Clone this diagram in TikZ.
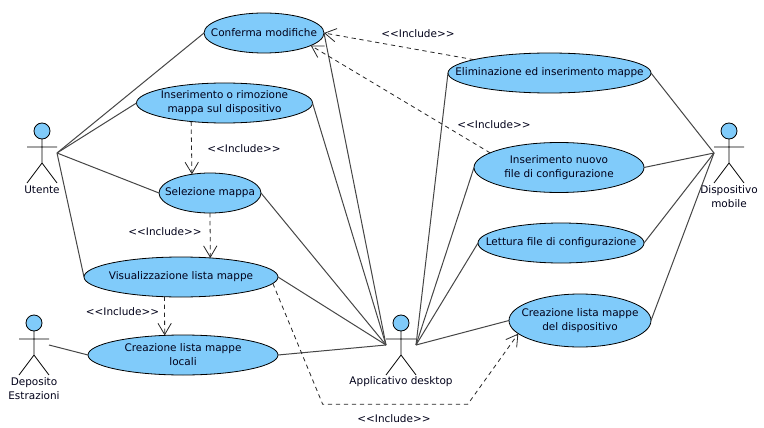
\documentclass[tikz,border=0pt]{standalone}
\usepackage{fontspec}
\setmainfont{DejaVu Sans}
\usetikzlibrary{shapes.geometric,arrows.meta}
\definecolor{ucfill}{RGB}{128,203,250}
\definecolor{linkgrey}{RGB}{70,70,70}
\tikzset{
  lbl/.style={inner sep=0pt,align=center,font=\fontsize{7.85}{10.5}\selectfont,text=black!90!blue},
  uc/.style={ellipse,draw=black,fill=ucfill,line width=0.6pt,inner sep=0pt,outer sep=0pt},
  head/.style={circle,draw=black,fill=ucfill,line width=0.6pt,minimum size=12pt,inner sep=0pt,outer sep=0pt},
  assoc/.style={draw=linkgrey,line width=0.75pt},
  incl/.style={draw=black!85,line width=0.6pt,dash pattern=on 3.2pt off 2.8pt,-{Straight Barb[length=8.5pt,width=10pt,line width=0.6pt]}},
  pics/actor/.style={code={
    \node[head] (-head) at (0,0) {};
    \draw[black,line width=0.6pt] (-head.south) -- (0,32) (-15,16) -- (15,16) (-15,52) -- (0,32) -- (15,52);
    \coordinate (-l) at (-15,22);
    \coordinate (-r) at (15,22);
  }}
}
\begin{document}
\begin{tikzpicture}[x=0.75pt,y=-0.75pt]
\path[use as bounding box,fill=white] (0,0) rectangle (764,428);
% use cases
\node[uc,minimum width=90pt,minimum height=30pt,label={[lbl]center:Conferma modifiche}] (conf) at (264,33) {};
\node[uc,minimum width=132pt,minimum height=30pt,label={[lbl]center:Inserimento o rimozione\\mappa sul dispositivo}] (insrim) at (224.5,103) {};
\node[uc,minimum width=76.5pt,minimum height=30pt,label={[lbl]center:Selezione mappa}] (sel) at (210,193) {};
\node[uc,minimum width=145.5pt,minimum height=30pt,label={[lbl]center:Visualizzazione lista mappe}] (vis) at (181,277) {};
\node[uc,minimum width=142.5pt,minimum height=30pt,label={[lbl]center:Creazione lista mappe\\locali}] (loc) at (183,355) {};
\node[uc,minimum width=152.25pt,minimum height=30pt,label={[lbl]center:Eliminazione ed inserimento mappe}] (elim) at (549.5,73) {};
\node[uc,minimum width=127.5pt,minimum height=37.5pt,label={[lbl]center:Inserimento nuovo\\file di configurazione}] (nuovo) at (559,167.5) {};
\node[uc,minimum width=124.5pt,minimum height=30pt,label={[lbl]center:Lettura file di configurazione}] (lett) at (561,243) {};
\node[uc,minimum width=106.5pt,minimum height=39.75pt,label={[lbl]center:Creazione lista mappe\\del dispositivo}] (cdisp) at (580,320.5) {};
% actors
\pic (ut) at (42,131) {actor};
\pic (disp) at (729,131) {actor};
\pic (app) at (401,323) {actor};
\pic (dep) at (34,323) {actor};
\node[lbl] (utl) at (42,190) {Utente};
\node[lbl] (displ) at (729,197) {Dispositivo\\mobile};
\node[lbl] (appl) at (401,382) {Applicativo desktop};
\node[lbl] (depl) at (34,389) {Deposito\\Estrazioni};
% associations
\draw[assoc] (ut-r) -- (conf.west);
\draw[assoc] (ut-r) -- (insrim.west);
\draw[assoc] (ut-r) -- (sel.west);
\draw[assoc] (ut-r) -- (vis.west);
\draw[assoc] (dep-r) -- (loc.west);
\draw[assoc] (app-l) -- (conf.east);
\draw[assoc] (app-l) -- (insrim.east);
\draw[assoc] (app-l) -- (sel.east);
\draw[assoc] (app-l) -- (vis.east);
\draw[assoc] (app-l) -- (loc.east);
\draw[assoc] (app-r) -- (elim.west);
\draw[assoc] (app-r) -- (nuovo.west);
\draw[assoc] (app-r) -- (lett.west);
\draw[assoc] (app-r) -- (cdisp.west);
\draw[assoc] (disp-l) -- (elim.east);
\draw[assoc] (disp-l) -- (nuovo.east);
\draw[assoc] (disp-l) -- (lett.east);
\draw[assoc] (disp-l) -- (cdisp.east);
% includes
\coordinate (bendA) at (322.7,404.3);
\coordinate (bendB) at (467.7,404.3);
\draw[incl] (insrim.209.3) -- (sel.134);
\draw[incl] (sel.south) -- (vis.33.8);
\draw[incl] (vis.230) -- (loc.133.3);
\draw[incl] (elim.170) -- (conf.east);
\draw[incl] (nuovo.168) -- (conf.-15);
\draw[incl] (vis.-4.3) -- (bendA) -- (bendB) -- (cdisp.192.3);
% include labels
\node[lbl] (i1) at (418,34) {<{}<Include>{}>};
\node[lbl] (i2) at (494,125) {<{}<Include>{}>};
\node[lbl] (i3) at (244,149) {<{}<Include>{}>};
\node[lbl] (i4) at (165,232) {<{}<Include>{}>};
\node[lbl] (i5) at (122.5,312) {<{}<Include>{}>};
\node[lbl] (i6) at (394,419) {<{}<Include>{}>};
\end{tikzpicture}
\end{document}
